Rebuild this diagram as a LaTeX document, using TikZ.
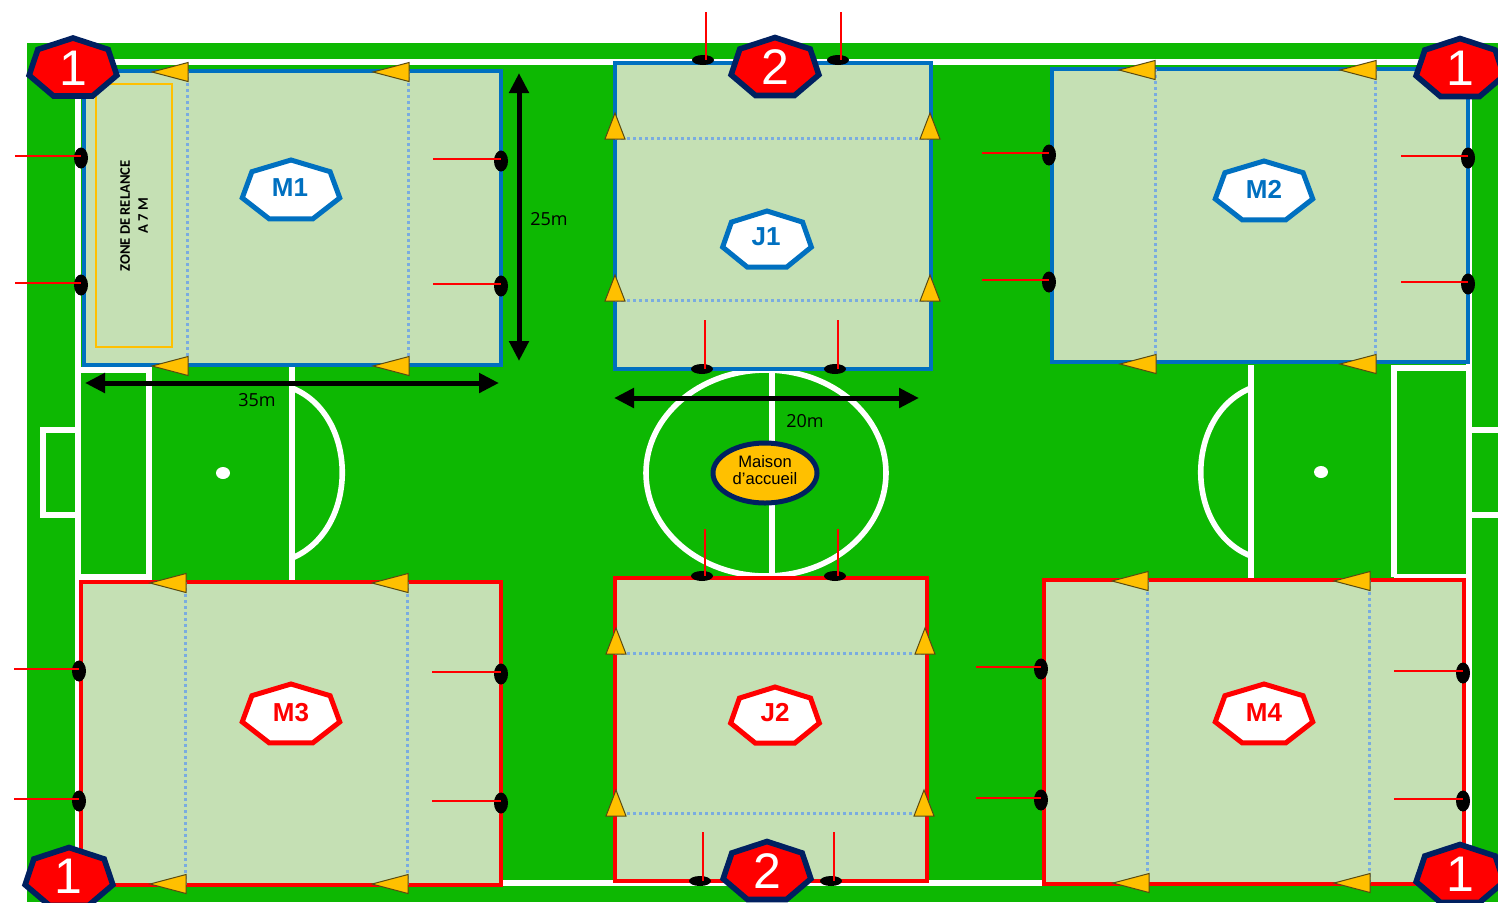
\documentclass[tikz,border=0pt]{standalone}
\usepackage{fontspec}
\setmainfont{Liberation Sans}
\newfontfamily\dimfont{Open Sans}
\newfontfamily\zonefont{Carlito}
\usetikzlibrary{shapes.geometric,arrows.meta}
\definecolor{pitch}{HTML}{0DB802}
\definecolor{zonefill}{HTML}{C5E0B4}
\definecolor{bluezone}{HTML}{0070C0}
\definecolor{redzone}{HTML}{FF0000}
\definecolor{gold}{HTML}{FFC000}
\definecolor{navy}{HTML}{002060}
\definecolor{dotblue}{HTML}{7AACE0}
\definecolor{tridark}{HTML}{5A4A10}
\tikzset{
  pitchline/.style={draw=white,line width=2.8pt},
  zonebox/.style={fill=zonefill,line width=1.65pt},
  dotline/.style={draw=dotblue,line width=1.5pt,dash pattern=on 1.5pt off 1.5pt},
  cone/.style={fill=gold,draw=tridark,line width=0.5pt,line join=miter},
  postv/.style={ellipse,fill=black,minimum width=7pt,minimum height=10.5pt,inner sep=0pt},
  posth/.style={ellipse,fill=black,minimum width=11pt,minimum height=5pt,inner sep=0pt},
  netline/.style={draw=red,line width=1pt},
  dimarrow/.style={draw=black,line width=2.5pt,{Triangle[length=10pt,width=9.5pt]}-{Triangle[length=10pt,width=9.5pt]}},
  dimtext/.style={font=\dimfont\fontsize{9pt}{10pt}\selectfont,text=black,inner sep=0pt}
}
\newcommand{\hepta}[8]{% name,cx,cy,rx,ry,draw,fill,width
  \draw[draw=#6,fill=#7,line width=#8]
    plot[samples at={0,1,2,3,4,5,6},variable=\k]
    ({#2+#4*sin(\k*360/7)},{#3-#5*cos(\k*360/7)}) -- cycle;
  \coordinate (#1) at (#2,#3);
}
\newcommand{\zonetext}[4]{\node[inner sep=0pt,text=#3,font=\fontsize{13pt}{15pt}\selectfont\bfseries] (#1) at (#2) {#4};}
\newcommand{\bigtext}[4]{\node[inner sep=0pt,text=white,font=\fontsize{#4}{#4}\selectfont] (#1) at (#2) {#3};}
\newcommand{\conel}[2]{\draw[cone] (#1,#2-9.5) -- (#1,#2+9.5) -- (#1-36,#2) -- cycle;}
\newcommand{\coneu}[2]{\draw[cone] (#1-10,#2+13) -- (#1+10,#2+13) -- (#1,#2-13) -- cycle;}
\newcommand{\vpost}[4]{\node[postv] (#1) at (#2,#3) {}; \coordinate (#1f) at (#4,#3-2); \draw[netline] (#1f) -- (#1f -| #1.center);}
\newcommand{\hpost}[4]{\node[posth] (#1) at (#2,#3) {}; \coordinate (#1f) at (#2+3,#4); \draw[netline] (#1f) -- (#1f |- #1.center);}
\begin{document}
\begin{tikzpicture}[x=0.5pt,y=-0.5pt]
\clip (0,0) rectangle (1498,902);
\fill[white] (0,0) rectangle (1498,902);
\fill[pitch] (27,43) rectangle (1498,902);
% pitch markings
\draw[pitchline] (78,62) rectangle (1469,883);
\draw[pitchline] (772,62) -- (772,883);
\draw[pitchline] (766,473) ellipse [x radius=120,y radius=103];
\draw[pitchline] (78,370) rectangle (149,577);
\draw[pitchline] (78,430) -- (43,430) -- (43,515) -- (78,515);
\draw[pitchline] (292,366) -- (292,582);
\draw[pitchline] (292,388) .. controls (359,415) and (359,530) .. (292,558);
\fill[white] (223,473) ellipse [x radius=7,y radius=6];
\draw[pitchline] (1394,577) -- (1394,368) -- (1469,368);
\draw[pitchline] (1394,577) -- (1469,577);
\draw[pitchline] (1498,430) -- (1469,430);
\draw[pitchline] (1498,515) -- (1469,515);
\draw[pitchline] (1251,365) -- (1251,580);
\draw[pitchline] (1251,388) .. controls (1184,415) and (1184,530) .. (1251,556);
\fill[white] (1321,472) ellipse [x radius=7,y radius=6];
% zones
\draw[zonebox,draw=bluezone] (84,71) rectangle (501,365);
\draw[zonebox,draw=bluezone] (615,63) rectangle (931,369);
\draw[zonebox,draw=bluezone] (1052,69) rectangle (1468,362);
\draw[zonebox,draw=redzone] (81,582) rectangle (501,885);
\draw[zonebox,draw=redzone] (615,578) rectangle (927,881);
\draw[zonebox,draw=redzone] (1044,580) rectangle (1464,884);
% dotted
\draw[dotline] (187,71) -- (187,365);
\draw[dotline] (408,71) -- (408,365);
\draw[dotline] (1155,69) -- (1155,362);
\draw[dotline] (1375,69) -- (1375,362);
\draw[dotline] (185,582) -- (185,885);
\draw[dotline] (407,582) -- (407,885);
\draw[dotline] (1147,580) -- (1147,884);
\draw[dotline] (1369,580) -- (1369,884);
\draw[dotline] (615,138) -- (931,138);
\draw[dotline] (615,300) -- (931,300);
\draw[dotline] (615,653) -- (927,653);
\draw[dotline] (615,813) -- (927,813);
% relaunch zone
\draw[draw=gold,line width=1.3pt] (96,84) rectangle (172,347);
\node[rotate=90,align=center,inner sep=0pt,text=black,font=\zonefont\bfseries\fontsize{7.3pt}{9pt}\selectfont] (relance) at (134,216) {ZONE DE RELANCE\\A 7 M};
% cones
\conel{188}{72}\conel{409}{72}\conel{188}{366}\conel{409}{366}
\conel{1155}{70}\conel{1376}{70}\conel{1156}{364}\conel{1376}{364}
\conel{186}{583}\conel{408}{583}\conel{186}{884}\conel{408}{884}
\conel{1148}{581}\conel{1370}{581}\conel{1149}{883}\conel{1370}{883}
\coneu{615}{126}\coneu{930}{126}\coneu{615}{288}\coneu{930}{288}
\coneu{616}{641}\coneu{925}{641}\coneu{616}{803}\coneu{924}{803}
% goal posts and their red lines
\vpost{a1}{81}{158}{15}\vpost{a2}{81}{285}{15}
\vpost{a3}{501}{161}{433}\vpost{a4}{501}{286}{433}
\vpost{b1}{1049}{155}{982}\vpost{b2}{1049}{282}{982}
\vpost{b3}{1468}{158}{1401}\vpost{b4}{1468}{284}{1401}
\vpost{c1}{79}{671}{14}\vpost{c2}{79}{801}{14}
\vpost{c3}{501}{674}{432}\vpost{c4}{501}{803}{432}
\vpost{d1}{1041}{669}{976}\vpost{d2}{1041}{800}{976}
\vpost{d3}{1463}{673}{1394}\vpost{d4}{1463}{801}{1394}
\hpost{e1}{703}{60}{12}\hpost{e2}{838}{60}{12}
\hpost{e3}{702}{369}{320}\hpost{e4}{835}{369}{320}
\hpost{f1}{702}{576}{529}\hpost{f2}{835}{576}{529}
\hpost{f3}{700}{881}{832}\hpost{f4}{831}{881}{832}
% dimensions
\coordinate (v1) at (519,73); \coordinate (v2) at (519,361);
\draw[dimarrow] (v1) -- (v2);
\coordinate (h1) at (85,383); \coordinate (h2) at (499,383);
\draw[dimarrow] (h1) -- (h2);
\coordinate (j1) at (614,398); \coordinate (j2) at (919,398);
\draw[dimarrow] (j1) -- (j2);
\node[dimtext] (d25) at (549,219) {25m};
\node[dimtext] (d35) at (257,400) {35m};
\node[dimtext] (d20) at (805,421) {20m};
% house
\node[ellipse,draw=navy,fill=gold,line width=2.5pt,minimum width=52pt,minimum height=30pt,inner sep=0pt] (maison) at (765,473) {};
\node[inner sep=0pt,align=center,font=\fontsize{8.3pt}{8.6pt}\selectfont] (maisontext) at (765,470) {Maison\\d'accueil};
% zone labels
\hepta{m1p}{291}{191}{50}{31}{bluezone}{white}{2.5pt}\zonetext{m1}{290,188}{bluezone}{M1}
\hepta{j1p}{767}{240.5}{45.5}{29.5}{bluezone}{white}{2.5pt}\zonetext{j1t}{766,237}{bluezone}{J1}
\hepta{m2p}{1264}{192}{50}{31}{bluezone}{white}{2.5pt}\zonetext{m2}{1264,189}{bluezone}{M2}
\hepta{m3p}{291}{715}{50}{31}{redzone}{white}{2.5pt}\zonetext{m3}{291,713}{redzone}{M3}
\hepta{j2p}{775}{716.5}{45.5}{29.5}{redzone}{white}{2.5pt}\zonetext{j2t}{775,713}{redzone}{J2}
\hepta{m4p}{1264}{715}{50}{31}{redzone}{white}{2.5pt}\zonetext{m4}{1264,713}{redzone}{M4}
% numbered heptagons
\hepta{p1}{73}{68.5}{45}{30.5}{navy}{red}{2.8pt}\bigtext{n1}{73,68}{1}{25pt}
\hepta{p2}{1460}{69}{45}{30.5}{navy}{red}{2.8pt}\bigtext{n2}{1460,68}{1}{25pt}
\hepta{p3}{69}{878}{45}{30.5}{navy}{red}{2.8pt}\bigtext{n3}{68,876}{1}{25pt}
\hepta{p4}{1460}{875}{45}{30.5}{navy}{red}{2.8pt}\bigtext{n4}{1460,874}{1}{25pt}
\hepta{p5}{775}{68}{45}{30.5}{navy}{red}{2.8pt}\bigtext{n5}{775,67}{2}{25pt}
\hepta{p6}{767}{872}{45}{30.5}{navy}{red}{2.8pt}\bigtext{n6}{767,871}{2}{25pt}
\end{tikzpicture}
\end{document}
